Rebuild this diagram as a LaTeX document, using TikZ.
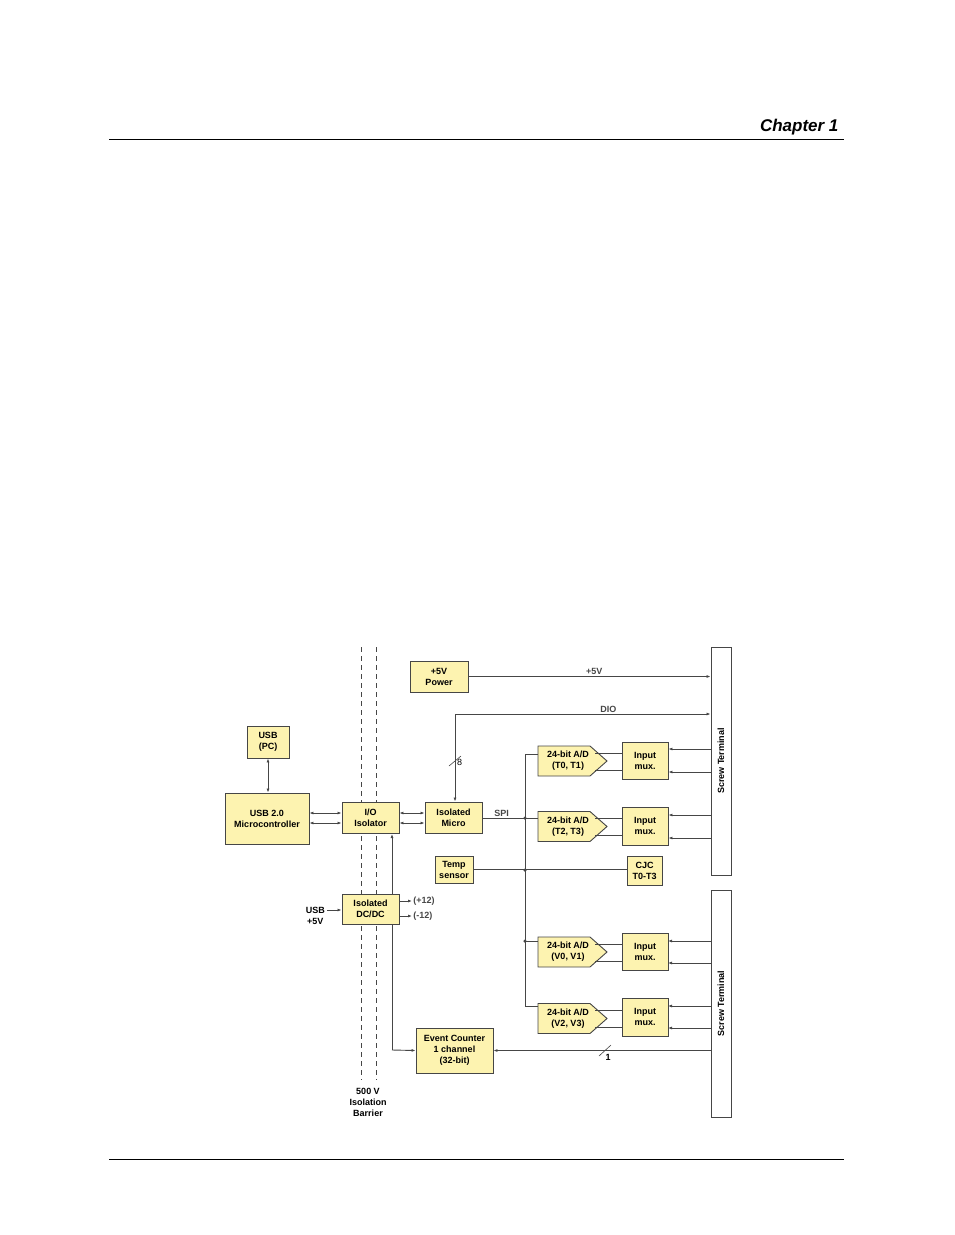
\documentclass[tikz,border=0pt]{standalone}
\usepackage{fontspec}
\setmainfont{Liberation Sans}
\usetikzlibrary{arrows.meta}
\definecolor{boxy}{RGB}{253,243,176}
\definecolor{ln}{RGB}{70,70,70}
\begin{document}
\begin{tikzpicture}[x=1pt,y=-1pt,
 blk/.style={draw=ln,fill=boxy,line width=0.9pt,font=\fontsize{9}{11}\selectfont\bfseries,align=center,inner sep=0pt},
 wire/.style={ln,line width=0.9pt},
 arr/.style={wire,-{Latex[length=4pt,width=3pt]}},
 darr/.style={wire,{Latex[length=4pt,width=3pt]}-{Latex[length=4pt,width=3pt]}},
 lbl/.style={font=\fontsize{9}{11}\selectfont\bfseries,align=center,inner sep=1pt},
 dot/.style={circle,fill=ln,inner sep=0pt,minimum size=3.5pt}]
\useasboundingbox (0,0) rectangle (954,1235);
% header
\node[anchor=base east,font=\fontsize{17}{20}\selectfont\bfseries\itshape] (chap) at (842,131) {Chapter 1};
\draw[line width=0.6pt] (109,139) -- (844,139);
\draw[line width=0.6pt] (109,1159) -- (844,1159);
% barrier
\draw[ln,dashed,line width=0.8pt,dash pattern=on 5pt off 4pt] (361,647) -- (361,1080);
\draw[ln,dashed,line width=0.8pt,dash pattern=on 5pt off 4pt] (376,647) -- (376,1080);
\node[lbl] (bar) at (368,1102) {500 V\\Isolation\\Barrier};
% screw terminals
\node[draw=ln,line width=0.9pt,fill=white,minimum width=20pt,minimum height=228pt,inner sep=0pt] (st1) at (721,761) {};
\node[lbl,rotate=90] at (721,761) {Screw Terminal};
\node[draw=ln,line width=0.9pt,fill=white,minimum width=20pt,minimum height=227pt,inner sep=0pt] (st2) at (721,1003.5) {};
\node[lbl,rotate=90] at (721,1003.5) {Screw Terminal};
% boxes
\node[blk,minimum width=58pt,minimum height=31pt] (pwr) at (439,676.5) {+5V\\Power};
\node[blk,minimum width=42pt,minimum height=32pt] (usbpc) at (268,742) {USB\\(PC)};
\node[blk,minimum width=84pt,minimum height=51pt] (mcu) at (267,818.5) {USB 2.0\\Microcontroller};
\node[blk,minimum width=57pt,minimum height=31pt] (iso) at (370.5,817.5) {I/O\\Isolator};
\node[blk,minimum width=57pt,minimum height=31pt] (micro) at (453.5,817.5) {Isolated\\Micro};
\node[blk,minimum width=38pt,minimum height=27pt] (temp) at (454,869.5) {Temp\\sensor};
\node[blk,minimum width=35pt,minimum height=29pt] (cjc) at (644.5,870.5) {CJC\\T0-T3};
\node[blk,minimum width=57pt,minimum height=30pt] (dcdc) at (370.5,909) {Isolated\\DC/DC};
\node[blk,minimum width=77pt,minimum height=45pt] (ec) at (454.5,1050.5) {Event Counter\\1 channel\\(32-bit)};
% muxes
\foreach \n/\yc/\h in {m1/760.5/37,m2/826/38,m3/951.5/37,m4/1017/38}{
  \node[blk,minimum width=46pt,minimum height=\h pt] (\n) at (645,\yc) {Input\\mux.};}
% A/D pentagons
\foreach \n/\yc/\t in {a1/761/{(T0, T1)},a2/826.5/{(T2, T3)},a3/952/{(V0, V1)},a4/1018.5/{(V2, V3)}}{
  \draw[wire,fill=boxy] (538,\yc-15) -- (590,\yc-15) -- (607,\yc) -- (590,\yc+15) -- (538,\yc+15) -- cycle;
  \node[lbl] (\n) at (568,\yc) {24-bit A/D\\\t};
  \draw[wire] (595,\yc-8) -- (622,\yc-8);
  \draw[wire] (595,\yc+9) -- (622,\yc+9);}
% screw terminal to mux arrows
\foreach \y/\m in {749/m1,772/m1,815/m2,838/m2}{
  \draw[arr] (711,\y) -- (m1.east |- 0,\y);}
\foreach \y in {941,963,1006,1028}{
  \draw[arr] (711,\y) -- (668,\y);}
% power and DIO
\draw[arr] (pwr.east) -- (st1.west |- pwr.east) node[pos=0.52,above,lbl] {+5V};
\coordinate (dioc) at (455,714);
\draw[arr] (dioc) -- (st1.west |- dioc) node[pos=0.6,above,lbl] {DIO};
\draw[arr] (dioc) -- (micro.north -| dioc);
\draw[wire,line width=0.6pt] (449,766) -- (461,756);
\node[font=\fontsize{9}{11}\selectfont,anchor=west,inner sep=0pt] at (457,762) {8};
% USB links
\draw[darr] (usbpc.south) -- (mcu.north -| usbpc.south);
\draw[darr] (mcu.east |- 0,813) -- (iso.west |- 0,813);
\draw[darr] (mcu.east |- 0,823) -- (iso.west |- 0,823);
\draw[darr] (iso.east |- 0,813) -- (micro.west |- 0,813);
\draw[darr] (iso.east |- 0,823) -- (micro.west |- 0,823);
% SPI bus
\coordinate (b0) at (525,754);
\coordinate (bspi) at (525,818);
\coordinate (btemp) at (525,870);
\coordinate (bv0) at (525,941);
\coordinate (b3) at (525,1006);
\draw[wire] (micro.east |- bspi) -- (bspi) node[pos=0.45,above,lbl] {SPI};
\draw[wire] (538,754) -- (b0) -- (b3) -- (538,1006);
\draw[wire] (bspi) -- (538,818);
\draw[wire] (bv0) -- (538,941);
\draw[wire] (temp.east) -- (cjc.west |- temp.east);
\node[dot] at (bspi) {};\node[dot] at (btemp) {};\node[dot] at (bv0) {};
% DC/DC
\coordinate (usbin) at (327,910);
\node[lbl,anchor=east] (usb5) at (326,916) {USB\\+5V};
\draw[arr] (usbin) -- (dcdc.west |- usbin);
\draw[arr] (dcdc.east |- 0,901) -- (412,901) node[lbl,anchor=west] {(+12)};
\draw[arr] (dcdc.east |- 0,916) -- (412,916) node[lbl,anchor=west] {(-12)};
% counter feed
\coordinate (ecl) at (392,1050);
\draw[arr] (ecl) -- (ec.west);
\draw[wire] (ecl) -- (392,924);
\draw[arr] (392,894) -- (392,834);
\draw[arr] (st2.west |- ec.east) -- (ec.east);
\draw[wire,line width=0.6pt] (599,1056) -- (611,1045);
\node[font=\fontsize{9}{11}\selectfont\bfseries,inner sep=0pt] at (608,1057) {1};
\end{tikzpicture}
\end{document}
